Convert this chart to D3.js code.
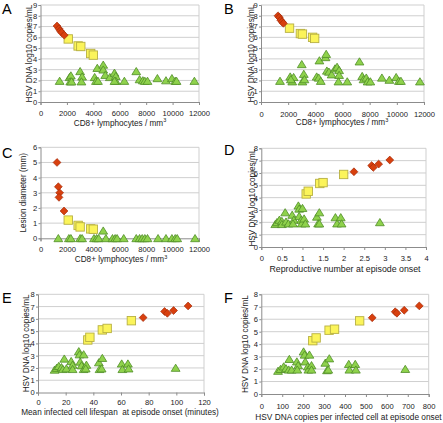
<!DOCTYPE html>
<html><head><meta charset="utf-8">
<script src="https://cdn.jsdelivr.net/npm/d3@7/dist/d3.min.js"></script>
<style>
body{margin:0;background:#fff;}
svg{display:block;font-family:"Liberation Sans",Arial,sans-serif;}
text{white-space:pre;}
</style></head><body>
<svg id="c" width="443" height="423"></svg>
<script>
// ---------- DATA ----------
// Panel A: CD8 vs HSV DNA
const aRedX = [1250, 1400, 1500, 1600, 1800];
const aRedY = [7.05, 6.8, 6.6, 6.45, 6.2];
const aYelX = [2100, 2850, 3050, 3800, 4000];
const aYelY = [5.85, 5.2, 5.15, 4.5, 4.35];
const aGrnX = [1450,2200,2300,2250,2350,3000,3150,3100,4100,4200,4350,4300,4750,4750,4900,5250,5600,5700,5700,5600,6350,7250,7500,7750,7900,8100,8850,9500,9950,10200,10300,11650];
const aGrnY = [1.95,2.3,2.45,1.9,1.9,2.85,2.35,1.9,2.3,1.95,1.95,3.15,3.45,3.0,2.5,2.3,2.7,2.4,1.95,1.95,1.95,2.85,2.1,2.0,1.95,1.95,2.2,2.0,2.2,1.95,1.95,1.95];
// Panel B
const bRedX = [1250, 1350, 1450, 1550, 1650];
const bRedY = [8.0, 7.85, 7.6, 7.45, 7.3];
const bYelX = [2100, 2900, 3050, 3800, 3950];
const bYelY = [6.85, 6.35, 6.3, 6.0, 5.9];
const bGrnX = [1400,2150,2300,2400,2200,3000,3150,3050,3200,4100,4250,4400,4300,4750,4800,4850,5000,5200,5450,5600,5750,5750,5700,6350,7250,7450,7550,7750,7850,8050,8900,9450,9950,10150,10300,11700];
const bGrnY = [1.95,2.35,1.9,2.3,2.1,3.5,2.6,1.9,2.1,2.35,2.25,1.95,3.85,4.15,4.45,2.9,2.8,2.55,3.1,3.25,2.95,2.5,1.9,1.9,3.75,2.4,2.1,2.25,1.9,1.9,2.25,2.05,2.3,1.95,1.95,1.9];
// Panel C: CD8 vs lesion diameter
const cRedX = [1250, 1350, 1450, 1400, 1780];
const cRedY = [5.0, 3.4, 3.0, 2.7, 1.8];
const cYelX = [2100, 2850, 3000, 3800, 4000];
const cYelY = [1.2, 0.85, 0.75, 0.62, 0.6];
const cGrnX = [1350,2150,2300,3000,3150,4050,4250,4400,4750,4950,5450,5650,5800,6300,7250,7500,7700,7900,8100,8900,9500,9950,10200,10350,11700];
const cGrnY = [0,0,0,0,0,0,0,0,0.5,0,0,0,0,0,0,0,0,0,0,0,0,0,0,0,0];
// Panel D: reproductive number vs HSV DNA
const dRedX = [2.25, 2.68, 2.72, 2.85, 3.12];
const dRedY = [6.1, 6.6, 6.45, 6.72, 7.05];
const dYelX = [1.09, 1.14, 1.42, 1.5, 2.0];
const dYelY = [4.3, 4.52, 5.15, 5.22, 5.88];
const dGrnX = [0.34,0.38,0.44,0.5,0.5,0.58,0.6,0.66,0.75,0.79,0.77,0.9,0.92,0.92,1.0,0.97,0.98,1.04,1.07,1.35,1.41,1.38,1.41,1.8,1.84,1.93,1.95,2.88];
const dGrnY = [1.85,2.0,2.2,2.1,1.85,2.8,2.05,1.9,2.6,2.2,1.9,3.35,3.1,2.5,3.15,2.2,1.9,2.3,1.9,2.45,2.8,1.9,1.9,2.4,1.9,2.4,1.9,2.0];
// Panel E: mean infected cell lifespan vs HSV DNA
const eRedX = [76, 91.5, 93.5, 98, 108.5];
const eRedY = [6.1, 6.6, 6.45, 6.68, 7.05];
const eYelX = [36, 37.5, 46.5, 50, 67.5];
const eYelY = [4.28, 4.5, 5.1, 5.22, 5.85];
const eGrnX = [12,13.5,15,17,19,18,20.5,24,25,25,29.5,30,30.5,33,31.5,33,35,34.5,44,46.5,44.5,46,60.5,61,65,65.5,99.5];
const eGrnY = [1.85,2.0,2.15,2.05,2.75,1.9,1.95,2.55,2.25,1.9,3.35,3.1,2.5,3.1,2.2,1.9,2.25,1.95,2.45,2.8,1.9,1.95,2.35,1.9,2.35,1.95,2.0];
// Panel F: HSV DNA copies per infected cell vs HSV DNA
const fRedX = [530, 640, 648, 683, 755];
const fRedY = [6.12, 6.6, 6.48, 6.72, 7.07];
const fYelX = [246, 262, 324, 350, 470];
const fYelY = [4.28, 4.5, 5.12, 5.2, 5.87];
const fGrnX = [80,92,107,118,134,131,145,170,176,172,202,207,210,230,222,225,240,240,306,325,314,320,418,421,449,452,688];
const fGrnY = [1.85,2.0,2.2,2.05,2.8,1.95,1.95,2.6,2.3,1.95,3.4,3.15,2.6,3.15,2.2,1.95,2.3,1.95,2.5,2.85,1.9,1.95,2.4,1.95,2.4,1.95,2.0];

// tick values
const cd8Ticks = [0,2000,4000,6000,8000,10000,12000];
const rTicks = [0,0.5,1,1.5,2,2.5,3,3.5,4];
const lifeTicks = [0,20,40,60,80,100,120];
const copyTicks = [0,100,200,300,400,500,600,700,800];
const y9Ticks = [0,1,2,3,4,5,6,7,8,9];
const y8Ticks = [0,1,2,3,4,5,6,7,8];
const y6Ticks = [0,1,2,3,4,5,6];

const hsvTitle = "HSV DNA log10 copies/mL";

// ---------- LAYOUT ----------
const panels = [
 {L:"A", lx:2, ly:14, box:[40.5,199,5,102], xd:[0,12000], yd:[0,9], xt:cd8Ticks, yt:y9Ticks,
  xtitle:"cd8", ytitle:hsvTitle, ytx:29, xlab:115.7, xty:125.5, xtc:120, xf:8.2,
  red:[aRedX,aRedY], yel:[aYelX,aYelY], grn:[aGrnX,aGrnY]},
 {L:"B", lx:224, ly:14, box:[261,424,5,102], xd:[0,12000], yd:[0,9], xt:cd8Ticks, yt:y9Ticks,
  xtitle:"cd8", ytitle:hsvTitle, ytx:251, xlab:116.5, xty:125, xtc:342, xf:8.2,
  red:[bRedX,bRedY], yel:[bYelX,bYelY], grn:[bGrnX,bGrnY]},
 {L:"C", lx:2, ly:158, box:[40.5,199,147.3,238.3], xd:[0,12000], yd:[0,6], xt:cd8Ticks, yt:y6Ticks,
  xtitle:"cd8", ytitle:"Lesion diameter (mm)", ytx:22.5, xlab:252, xty:262, xtc:121, xf:8.2,
  red:[cRedX,cRedY], yel:[cYelX,cYelY], grn:[cGrnX,cGrnY]},
 {L:"D", lx:224, ly:155, box:[261.3,426,148.3,247], xd:[0,4], yd:[0,8], xt:rTicks, yt:y8Ticks,
  xtitle:"Reproductive number at episode onset", ytitle:hsvTitle, ytx:251.5, xlab:260.7, xty:272, xtc:345, xf:8.8,
  red:[dRedX,dRedY], yel:[dYelX,dYelY], grn:[dGrnX,dGrnY]},
 {L:"E", lx:2, ly:303, box:[38,204,294.3,392.5], xd:[0,120], yd:[0,8], xt:lifeTicks, yt:y8Ticks,
  xtitle:"Mean infected cell lifespan  at episode onset (minutes)", ytitle:hsvTitle, ytx:26, xlab:404.5, xty:415, xtc:120, xf:8.2,
  red:[eRedX,eRedY], yel:[eYelX,eYelY], grn:[eGrnX,eGrnY]},
 {L:"F", lx:224, ly:303, box:[261.3,428.7,294.3,394], xd:[0,800], yd:[0,8], xt:copyTicks, yt:y8Ticks,
  xtitle:"HSV DNA copies per infected cell at episode onset", ytitle:hsvTitle, ytx:245, xlab:408.7, xty:419.5, xtc:348.5, xf:8.3,
  red:[fRedX,fRedY], yel:[fYelX,fYelY], grn:[fGrnX,fGrnY]}
];

const svg = d3.select("#c");
const textCol = "#1a1a1a";
const tickFont = "7.6px", titleFont = "8.2px";

panels.forEach(p => {
  const [l,r,t,b] = p.box;
  const x = d3.scaleLinear().domain(p.xd).range([l,r]);
  const y = d3.scaleLinear().domain(p.yd).range([b,t]);
  const g = svg.append("g");

  // gridlines
  g.selectAll(".grid").data(p.yt.filter(v=>v>0)).enter().append("line")
    .attr("x1",l).attr("x2",r).attr("y1",d=>y(d)).attr("y2",d=>y(d))
    .attr("stroke","#cfcfcf").attr("stroke-width",1);
  // right border
  g.append("line").attr("x1",r).attr("x2",r).attr("y1",t).attr("y2",b)
    .attr("stroke","#cfcfcf");

  // axes
  const xa = d3.axisBottom(x).tickValues(p.xt).tickSize(3).tickFormat(d=>String(d));
  const ya = d3.axisLeft(y).tickValues(p.yt).tickSize(2).tickFormat(d=>String(d));
  const gx = g.append("g").attr("transform",`translate(0,${b})`).call(xa);
  const gy = g.append("g").attr("transform",`translate(${l},0)`).call(ya);
  [gx,gy].forEach(ax=>{
    ax.select(".domain").attr("stroke","#8c8c8c");
    ax.selectAll(".tick line").attr("stroke","#8c8c8c");
    ax.selectAll("text").attr("fill",textCol).style("font-size",tickFont)
      .style("font-family","'Liberation Sans',Arial,sans-serif");
  });
  gx.selectAll("text").attr("dy",null).attr("y",null)
    .attr("transform",`translate(0,${p.xlab-b})`);
  gy.selectAll("text").attr("x",-3.3);

  // markers
  const tri = "M0,-3.8L4.4,3.4L-4.4,3.4Z";
  const grn = d3.zip(p.grn[0], p.grn[1]);
  g.selectAll(".g").data(grn).enter().append("path")
    .attr("d",tri).attr("transform",d=>`translate(${x(d[0])},${y(d[1])})`)
    .attr("fill","#8fd24c").attr("stroke","#4f8d27").attr("stroke-width",0.8);
  const yel = d3.zip(p.yel[0], p.yel[1]);
  g.selectAll(".y").data(yel).enter().append("rect")
    .attr("x",d=>x(d[0])-4.2).attr("y",d=>y(d[1])-4.2).attr("width",8.4).attr("height",8.4)
    .attr("fill","#fbf45a").attr("stroke","#b7b043").attr("stroke-width",0.9);
  const dia = "M0,-3.9L3.9,0L0,3.9L-3.9,0Z";
  const red = d3.zip(p.red[0], p.red[1]);
  g.selectAll(".r").data(red).enter().append("path")
    .attr("d",dia).attr("transform",d=>`translate(${x(d[0])},${y(d[1])})`)
    .attr("fill","#d8400e").attr("stroke","#a32a08").attr("stroke-width",0.7);

  // titles
  const cy = (t+b)/2;
  g.append("text").attr("transform",`translate(${p.ytx+3},${cy}) rotate(-90)`)
    .attr("text-anchor","middle").attr("fill",textCol).style("font-size",titleFont)
    .text(p.ytitle);
  const xt = g.append("text").attr("x",p.xtc).attr("y",p.xty).attr("text-anchor","middle")
    .attr("fill",textCol).style("font-size",p.xf+"px");
  if (p.xtitle === "cd8") {
    xt.text("CD8+ lymphocytes / mm");
    xt.append("tspan").attr("dy",-3.2).style("font-size","5.5px").text("3");
  } else {
    xt.text(p.xtitle);
  }
  // panel letter
  g.append("text").attr("x",p.lx).attr("y",p.ly).attr("fill","#000")
    .style("font-size","14.5px").text(p.L);
});
</script>
</body></html>
